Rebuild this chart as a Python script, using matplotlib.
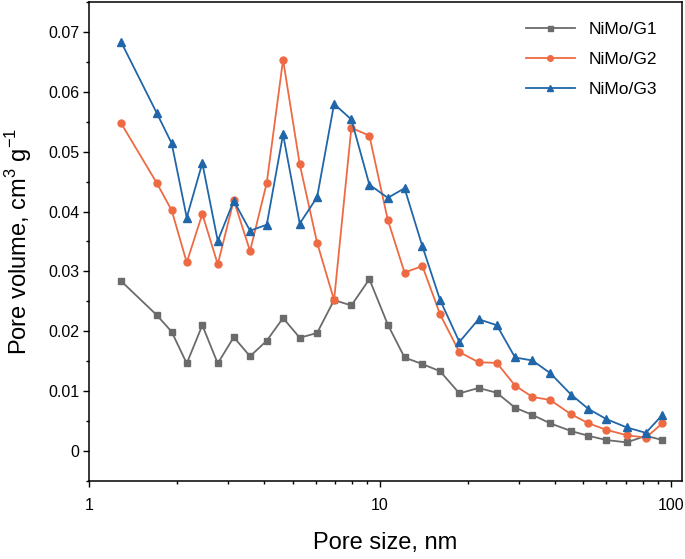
import matplotlib
matplotlib.use('Agg')
import matplotlib.pyplot as plt
from matplotlib.ticker import MultipleLocator, FixedLocator, FixedFormatter

plt.rcParams['font.family'] = ['Liberation Sans', 'DejaVu Sans']
plt.rcParams['mathtext.fontset'] = 'custom'
plt.rcParams['mathtext.rm'] = 'Liberation Sans'

pore_size = [1.285, 1.705, 1.920, 2.163, 2.447, 2.765, 3.139, 3.571, 4.076, 4.638,
             5.293, 6.072, 6.947, 7.966, 9.188, 10.63, 12.14, 13.98, 16.09, 18.74,
             21.82, 25.20, 29.13, 33.41, 38.44, 45.39, 52.06, 60.03, 70.56, 82.04, 93.56]

g1 = [0.0284, 0.0227, 0.0199, 0.0146, 0.0210, 0.0146, 0.0190, 0.0158, 0.0184, 0.0222,
      0.0189, 0.0197, 0.0252, 0.0243, 0.0287, 0.0211, 0.0156, 0.0145, 0.0133, 0.0096,
      0.0105, 0.0097, 0.0072, 0.0060, 0.0046, 0.0033, 0.0025, 0.0018, 0.0014, 0.0025, 0.0018]

g2 = [0.0548, 0.0448, 0.0402, 0.0315, 0.0396, 0.0312, 0.0419, 0.0334, 0.0448, 0.0654,
      0.0479, 0.0348, 0.0252, 0.0540, 0.0527, 0.0386, 0.0298, 0.0309, 0.0228, 0.0165,
      0.0148, 0.0147, 0.0109, 0.0090, 0.0085, 0.0061, 0.0046, 0.0035, 0.0026, 0.0022, 0.0046]

g3 = [0.0684, 0.0565, 0.0514, 0.0390, 0.0481, 0.0351, 0.0418, 0.0368, 0.0378, 0.0529,
      0.0380, 0.0424, 0.0580, 0.0554, 0.0445, 0.0423, 0.0439, 0.0342, 0.0252, 0.0182,
      0.0220, 0.0210, 0.0156, 0.0151, 0.0130, 0.0094, 0.0070, 0.0053, 0.0039, 0.0030, 0.0060]

labels = ['NiMo/G1', 'NiMo/G2', 'NiMo/G3']
y_ticks = [0, 0.01, 0.02, 0.03, 0.04, 0.05, 0.06, 0.07]
y_tick_labels = ['0', '0.01', '0.02', '0.03', '0.04', '0.05', '0.06', '0.07']

fig = plt.figure(figsize=(6.85, 5.59), dpi=100)
ax = fig.add_axes([0.1304, 0.1401, 0.8648, 0.8569])

ax.plot(pore_size, g1, color='#6b6b6b', marker='s', markersize=4.5, linewidth=1.3, label=labels[0])
ax.plot(pore_size, g2, color='#ee6a43', marker='o', markersize=5, linewidth=1.3, label=labels[1])
ax.plot(pore_size, g3, color='#2066a8', marker='^', markersize=6, linewidth=1.3, label=labels[2])

ax.set_xscale('log')
ax.set_xlim(1, 109)
ax.set_ylim(-0.005, 0.0751)
ax.yaxis.set_major_locator(FixedLocator(y_ticks))
ax.yaxis.set_major_formatter(FixedFormatter(y_tick_labels))
ax.yaxis.set_minor_locator(MultipleLocator(0.005))
ax.set_xticks([1, 10, 100])
ax.set_xticklabels(['1', '10', '100'])

ax.tick_params(which='major', direction='out', length=4.5, width=1, labelsize=11.5, pad=2.5)
ax.tick_params(which='minor', direction='out', length=2.5, width=1)
ax.tick_params(axis='x', which='major', pad=8)
for s in ax.spines.values():
    s.set_linewidth(1.1)

ax.set_xlabel('Pore size, nm', fontsize=17, labelpad=14)
ax.set_ylabel(r'Pore volume, cm$^3$ g$^{-1}$', fontsize=17, labelpad=10)

ax.legend(loc='upper right', frameon=False, fontsize=12.5, handlelength=2.8,
          markerscale=0.8, labelspacing=0.85, bbox_to_anchor=(0.985, 0.99))

fig.savefig('out.png', dpi=100)
